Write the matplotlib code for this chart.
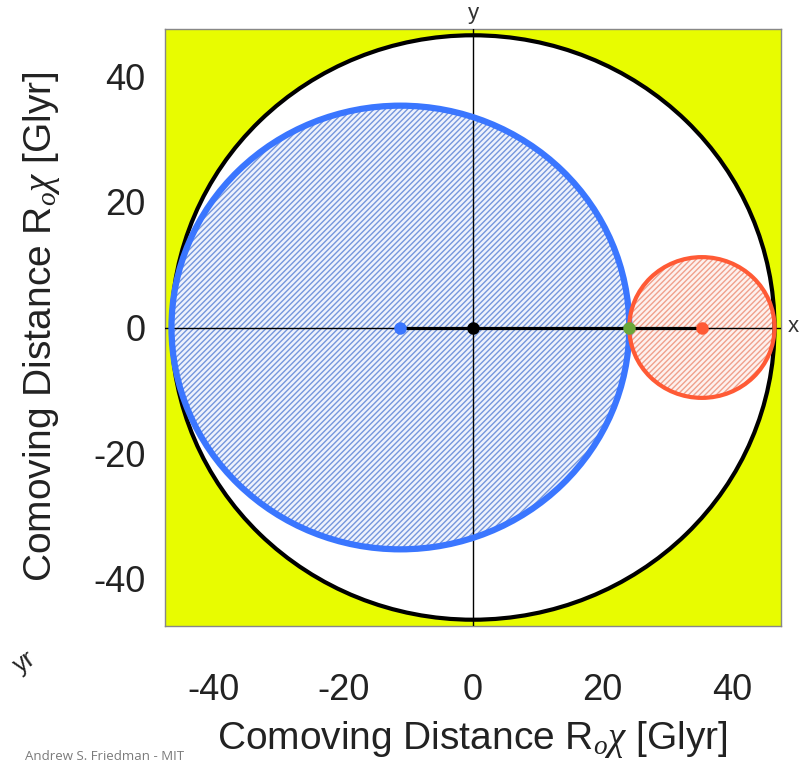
import matplotlib.pyplot as plt
from matplotlib.patches import Circle

plt.rcParams['font.family'] = ['Liberation Sans', 'DejaVu Sans']
plt.rcParams['mathtext.fontset'] = 'custom'
plt.rcParams['mathtext.it'] = 'Liberation Serif:italic'
plt.rcParams['mathtext.rm'] = 'Liberation Sans'
plt.rcParams['hatch.linewidth'] = 1.0
plt.rcParams['axes.unicode_minus'] = False

# data (Glyr)
R_univ = 46.5
blue_c, blue_r = -11.2, 35.3
red_c, red_r = 35.3, 11.2
green_x = 24.1
origin_x = 0.0
ticks = [-40, -20, 0, 20, 40]
lim = 47.5

yellow = '#e8fc00'
blue = '#3a76ff'
red = '#ff5a35'
green = '#6aa83a'

fig = plt.figure(figsize=(8.04, 7.70), dpi=100)
ax = fig.add_axes([165/804, 1-626/770, 616/804, 597/770])
ax.set_facecolor(yellow)
ax.set_xlim(-lim, lim)
ax.set_ylim(-lim, lim)

# observable universe
ax.add_patch(Circle((0, 0), R_univ, facecolor='white', edgecolor='none', zorder=1))

# hatched fills
ax.add_patch(Circle((blue_c, 0), blue_r, facecolor='#eef2fc', edgecolor='#7596dc',
                    lw=0, hatch='//////', zorder=2))
ax.add_patch(Circle((red_c, 0), red_r, facecolor='#fdf1ee', edgecolor='#f0a08c',
                    lw=0, hatch='//////', zorder=2))

# axis lines
ax.axhline(0, color='black', lw=1, zorder=3)
ax.axvline(0, color='black', lw=1, zorder=3)

# outlines
ax.add_patch(Circle((0, 0), R_univ, facecolor='none', edgecolor='black', lw=3, zorder=4))
ax.add_patch(Circle((blue_c, 0), blue_r, facecolor='none', edgecolor=blue, lw=4.5, zorder=5))
ax.add_patch(Circle((red_c, 0), red_r, facecolor='none', edgecolor=red, lw=3, zorder=5))

# thick segment between centres
ax.plot([blue_c, red_c], [0, 0], color='black', lw=2.3, zorder=6)

ax.plot(blue_c, 0, 'o', color=blue, ms=9, mec='none', zorder=7)
ax.plot(origin_x, 0, 'o', color='black', ms=9, mec='none', zorder=7)
ax.plot(green_x, 0, 'o', color=green, ms=9, mec='none', zorder=7)
ax.plot(red_c, 0, 'o', color=red, ms=9, mec='none', zorder=7)

ax.set_xticks(ticks)
ax.set_yticks(ticks)
ax.tick_params(length=0, labelsize=26, colors='#222222')
ax.tick_params(axis='x', pad=34)
ax.tick_params(axis='y', pad=14)
for s in ax.spines.values():
    s.set_color('#888888')
    s.set_linewidth(1)

lab = r'Comoving Distance R$_{o}\chi$ [Glyr]'
fig.text(472/804, 1-740/770, lab, ha='center', va='center', fontsize=28, color='#222222')
fig.text(42/804, 1-327/770, lab, ha='center', va='center', fontsize=28, color='#222222',
         rotation=90)

fig.text(473/804, 1-13/770, 'y', ha='center', va='center', fontsize=16, color='#333333')
fig.text(793/804, 1-327/770, 'x', ha='center', va='center', fontsize=16, color='#333333')
fig.text(16/804, 1-668/770, 'yr', ha='left', va='center', fontsize=18, rotation=35,
         rotation_mode='anchor', color='#222222')

fig.text(25/804, 1-757/770, 'Andrew S. Friedman - MIT', ha='left', va='center',
         fontsize=9.5, family='Open Sans', color='#7a7a7a')

fig.savefig('out.png', dpi=100)
